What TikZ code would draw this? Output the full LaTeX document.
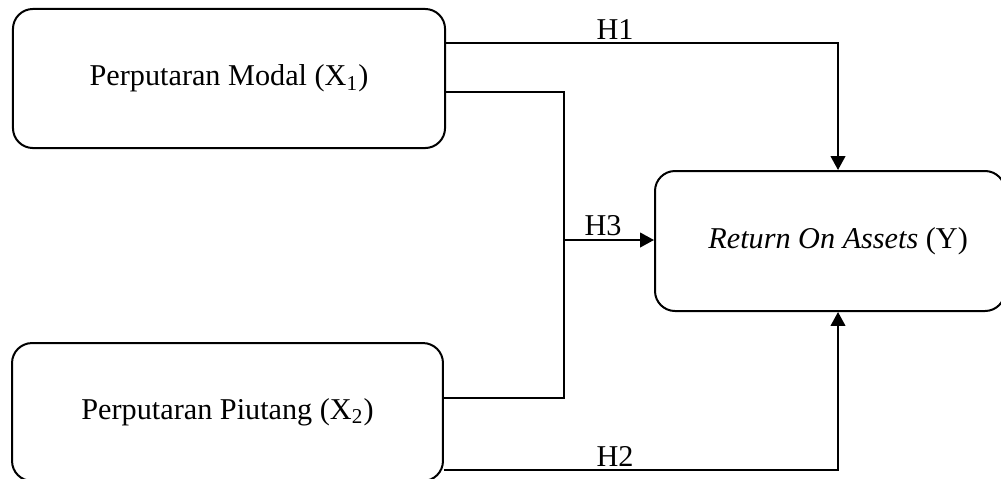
\documentclass[tikz,border=0pt]{standalone}
\usepackage{fontspec}
\setmainfont{Liberation Serif}
\usetikzlibrary{arrows.meta}
\begin{document}
\begin{tikzpicture}[x=0.43pt,y=-0.43pt,
  box/.style={draw,line width=0.86pt,rounded corners=8.6pt,inner sep=0pt,align=center,font=\fontsize{13}{15}\selectfont},
  conn/.style={line width=0.86pt},
  arr/.style={conn,-{Triangle[length=6pt,width=6.3pt]}},
  lbl/.style={anchor=base,inner sep=0pt,font=\fontsize{13}{15}\selectfont}]
\clip (0,0) rectangle (1001,478);
\fill[white] (0,0) rectangle (1001,478);
\node[box,minimum width=185.8pt,minimum height=59.8pt] (A) at (229,78.5) {Perputaran Modal (X\textsubscript{1})};
\node[box,minimum width=185.3pt,minimum height=59.3pt] (B) at (227.5,412) {Perputaran Piutang (X\textsubscript{2})};
\node[box,minimum width=150.5pt,minimum height=60.2pt] (Y) at (830,241) {\hspace*{7pt}\textit{Return On Assets} (Y)};
\coordinate (p1) at (838,43);
\coordinate (j) at (564,92);
\coordinate (jb) at (564,398);
\coordinate (h3) at (564,240);
\coordinate (p2) at (838,470);
\draw[arr] (A.east |- p1) -- (p1) -- (Y.north -| p1);
\draw[conn] (A.east |- j) -- (j) -- (jb) -- (B.east |- jb);
\draw[arr] (h3) -- (Y.west |- h3);
\draw[arr] (B.east |- p2) -- (p2) -- (Y.south -| p2);
\node[lbl] (H1) at (615,39) {H1};
\node[lbl] (H3) at (603,235) {H3};
\node[lbl] (H2) at (615,466) {H2};
\end{tikzpicture}
\end{document}
